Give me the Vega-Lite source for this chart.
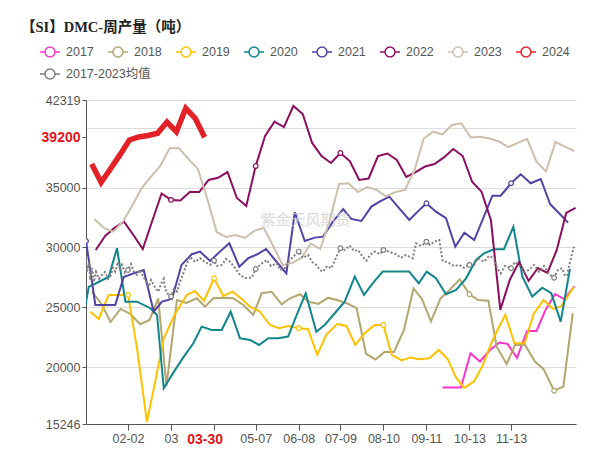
{
  "$schema": "https://vega.github.io/schema/vega-lite/v6.json",
  "width": 490,
  "height": 324,
  "autosize": {"type": "none"},
  "padding": {"left": 86, "top": 100, "right": 37, "bottom": 27},
  "background": "white",
  "title": {"text": "【SI】DMC-周产量（吨）", "anchor": "start", "frame": "group", "dx": -65, "dy": -6, "offset": 0, "font": "Liberation Serif, Noto Sans CJK SC", "fontSize": 14.5, "fontWeight": "bold", "color": "#222222"},
  "config": {
    "view": {"stroke": null},
    "font": "Liberation Sans",
    "axis": {"labelFont": "Liberation Sans", "labelFontSize": 12.5, "labelColor": "#555555", "domainColor": "#555555", "tickColor": "#555555", "gridColor": "#dcdcdc", "labelOverlap": false},
    "legend": {"orient": "none", "direction": "horizontal", "title": null, "padding": 0, "columnPadding": 11, "rowPadding": 2, "labelOffset": 5,
      "symbolType": "M-1,0L-0.5,0M0.5,0L1,0M0.5,0A0.5,0.5,0,1,1,-0.5,0A0.5,0.5,0,1,1,0.5,0",
      "symbolSize": 400, "symbolStrokeWidth": 1.5, "symbolFillColor": "white",
      "labelFont": "Liberation Sans, Noto Sans CJK SC", "labelFontSize": 12.5, "labelColor": "#555555"}
  },
  "data": {"values": [
    {"s":"2017","d":267,"v":18300},{"s":"2017","d":273.7,"v":18300},{"s":"2017","d":280.7,"v":18300},{"s":"2017","d":287.8,"v":21160},{"s":"2017","d":294.9,"v":20470},{"s":"2017","d":302.3,"v":21430},{"s":"2017","d":309.4,"v":22060},{"s":"2017","d":315.3,"v":21940},{"s":"2017","d":322.4,"v":20770},{"s":"2017","d":329.9,"v":23020},{"s":"2017","d":336.9,"v":23020},{"s":"2017","d":343.6,"v":24780},{"s":"2017","d":350.7,"v":26110},{"s":"2017","d":357.4,"v":25690},{"s":"2017","d":365.2,"v":26740},
    {"s":"2018","d":6.2,"v":26300},{"s":"2018","d":13.3,"v":25280},{"s":"2018","d":20,"v":23770},{"s":"2018","d":27.4,"v":24860},{"s":"2018","d":34.7,"v":24440},{"s":"2018","d":42.1,"v":23580},{"s":"2018","d":49,"v":23940},{"s":"2018","d":55.5,"v":25750},{"s":"2018","d":61.6,"v":18430},{"s":"2018","d":69.4,"v":25610},{"s":"2018","d":76.5,"v":25360},{"s":"2018","d":84.1,"v":25750},{"s":"2018","d":90.3,"v":25050},{"s":"2018","d":96.5,"v":25750},{"s":"2018","d":103.9,"v":25800},{"s":"2018","d":111.3,"v":25750},{"s":"2018","d":118.8,"v":25190},{"s":"2018","d":126.2,"v":24360},{"s":"2018","d":132.5,"v":26170},{"s":"2018","d":139.9,"v":26300},{"s":"2018","d":147.3,"v":25250},{"s":"2018","d":153.5,"v":25750},{"s":"2018","d":161,"v":26090},{"s":"2018","d":167.1,"v":25470},{"s":"2018","d":174.6,"v":25280},{"s":"2018","d":182,"v":25800},{"s":"2018","d":188.3,"v":25610},{"s":"2018","d":195.7,"v":25340},{"s":"2018","d":203.1,"v":24920},{"s":"2018","d":210.1,"v":21100},{"s":"2018","d":217.1,"v":20640},{"s":"2018","d":223.8,"v":21270},{"s":"2018","d":230.9,"v":21270},{"s":"2018","d":238.3,"v":23100},{"s":"2018","d":245.4,"v":26570},{"s":"2018","d":251.7,"v":25690},{"s":"2018","d":258.4,"v":23820},{"s":"2018","d":265.5,"v":25740},{"s":"2018","d":272.2,"v":26450},{"s":"2018","d":279.8,"v":27340},{"s":"2018","d":287,"v":26090},{"s":"2018","d":293.6,"v":25610},{"s":"2018","d":301.1,"v":25550},{"s":"2018","d":307.3,"v":21710},{"s":"2018","d":314.7,"v":20260},{"s":"2018","d":320.9,"v":21850},{"s":"2018","d":328.4,"v":21850},{"s":"2018","d":335.8,"v":20460},{"s":"2018","d":342.1,"v":19850},{"s":"2018","d":350,"v":18030},{"s":"2018","d":356.9,"v":18370},{"s":"2018","d":363.9,"v":24500},
    {"s":"2019","d":4.9,"v":24630},{"s":"2019","d":11.2,"v":24020},{"s":"2019","d":18.6,"v":26030},{"s":"2019","d":26.1,"v":26030},{"s":"2019","d":33,"v":26030},{"s":"2019","d":39.7,"v":21580},{"s":"2019","d":47.1,"v":15420},{"s":"2019","d":53.5,"v":18930},{"s":"2019","d":59.6,"v":22410},{"s":"2019","d":68,"v":24440},{"s":"2019","d":76.7,"v":26030},{"s":"2019","d":82.8,"v":26360},{"s":"2019","d":89.5,"v":25530},{"s":"2019","d":97,"v":27420},{"s":"2019","d":103.9,"v":25950},{"s":"2019","d":110.9,"v":26300},{"s":"2019","d":117.6,"v":25690},{"s":"2019","d":124.3,"v":25000},{"s":"2019","d":130.7,"v":24690},{"s":"2019","d":138.6,"v":23520},{"s":"2019","d":145.3,"v":23250},{"s":"2019","d":152.1,"v":23440},{"s":"2019","d":160,"v":23250},{"s":"2019","d":166.9,"v":23190},{"s":"2019","d":173.8,"v":21020},{"s":"2019","d":180.5,"v":22690},{"s":"2019","d":188.7,"v":23610},{"s":"2019","d":195.4,"v":23440},{"s":"2019","d":202.1,"v":21850},{"s":"2019","d":209.1,"v":22830},{"s":"2019","d":216.5,"v":23520},{"s":"2019","d":223,"v":23520},{"s":"2019","d":229.2,"v":21020},{"s":"2019","d":236.6,"v":20560},{"s":"2019","d":242.8,"v":20810},{"s":"2019","d":249.7,"v":20660},{"s":"2019","d":257.2,"v":20740},{"s":"2019","d":264.2,"v":21430},{"s":"2019","d":270.9,"v":20660},{"s":"2019","d":277.1,"v":19120},{"s":"2019","d":283.1,"v":18260},{"s":"2019","d":290.4,"v":18790},{"s":"2019","d":296.7,"v":20100},{"s":"2019","d":303.1,"v":21940},{"s":"2019","d":307.5,"v":23020},{"s":"2019","d":313.7,"v":24360},{"s":"2019","d":320.5,"v":21990},{"s":"2019","d":328.1,"v":21990},{"s":"2019","d":334.8,"v":24440},{"s":"2019","d":342.1,"v":25610},{"s":"2019","d":349.3,"v":24860},{"s":"2019","d":355.5,"v":25110},{"s":"2019","d":364.6,"v":26700},
    {"s":"2020","d":1.4,"v":25190},{"s":"2020","d":3.8,"v":26700},{"s":"2020","d":11.1,"v":27110},{"s":"2020","d":18.6,"v":27530},{"s":"2020","d":24.8,"v":29930},{"s":"2020","d":31.1,"v":25470},{"s":"2020","d":39.7,"v":25470},{"s":"2020","d":49.6,"v":24920},{"s":"2020","d":54.6,"v":24360},{"s":"2020","d":59.6,"v":18230},{"s":"2020","d":67.1,"v":19600},{"s":"2020","d":73.9,"v":20770},{"s":"2020","d":81.6,"v":21990},{"s":"2020","d":87.8,"v":23380},{"s":"2020","d":95.3,"v":23100},{"s":"2020","d":102.7,"v":23100},{"s":"2020","d":109.4,"v":24630},{"s":"2020","d":116.3,"v":22410},{"s":"2020","d":123.8,"v":22270},{"s":"2020","d":130.5,"v":21850},{"s":"2020","d":137.4,"v":22410},{"s":"2020","d":144.6,"v":22410},{"s":"2020","d":152.1,"v":22550},{"s":"2020","d":159.5,"v":24630},{"s":"2020","d":165.2,"v":26170},{"s":"2020","d":173.1,"v":22960},{"s":"2020","d":179.3,"v":23520},{"s":"2020","d":186.8,"v":24500},{"s":"2020","d":194.2,"v":25470},{"s":"2020","d":201.7,"v":27560},{"s":"2020","d":208.6,"v":26030},{"s":"2020","d":215.3,"v":27030},{"s":"2020","d":222.5,"v":27990},{"s":"2020","d":229.4,"v":27990},{"s":"2020","d":236.1,"v":27990},{"s":"2020","d":242.1,"v":27990},{"s":"2020","d":249.3,"v":27010},{"s":"2020","d":255.2,"v":27980},{"s":"2020","d":262.1,"v":27420},{"s":"2020","d":269.6,"v":26090},{"s":"2020","d":277.1,"v":26450},{"s":"2020","d":284.5,"v":27420},{"s":"2020","d":291.9,"v":28950},{"s":"2020","d":297.9,"v":29510},{"s":"2020","d":305.3,"v":29850},{"s":"2020","d":312.7,"v":29850},{"s":"2020","d":319.7,"v":31730},{"s":"2020","d":326.4,"v":27560},{"s":"2020","d":333.8,"v":25890},{"s":"2020","d":341.2,"v":26640},{"s":"2020","d":347.9,"v":26170},{"s":"2020","d":354.9,"v":23800},{"s":"2020","d":361.8,"v":28200},
    {"s":"2021","d":1.75,"v":30540},{"s":"2021","d":8.7,"v":25190},{"s":"2021","d":16.1,"v":25190},{"s":"2021","d":23.5,"v":25190},{"s":"2021","d":29.8,"v":27530},{"s":"2021","d":37.1,"v":27830},{"s":"2021","d":44.7,"v":28120},{"s":"2021","d":52.1,"v":24630},{"s":"2021","d":58.3,"v":25470},{"s":"2021","d":65.7,"v":25690},{"s":"2021","d":72.8,"v":28540},{"s":"2021","d":80.4,"v":29430},{"s":"2021","d":86.6,"v":29650},{"s":"2021","d":94.1,"v":28870},{"s":"2021","d":101.4,"v":29650},{"s":"2021","d":108.4,"v":30350},{"s":"2021","d":115.8,"v":28390},{"s":"2021","d":122.5,"v":29100},{"s":"2021","d":129.2,"v":29430},{"s":"2021","d":135.7,"v":29870},{"s":"2021","d":142.4,"v":28950},{"s":"2021","d":150.8,"v":27840},{"s":"2021","d":157.1,"v":32940},{"s":"2021","d":164.5,"v":30540},{"s":"2021","d":171.9,"v":30820},{"s":"2021","d":178.1,"v":30900},{"s":"2021","d":185.5,"v":32150},{"s":"2021","d":193.1,"v":33210},{"s":"2021","d":199.1,"v":32380},{"s":"2021","d":206.6,"v":32210},{"s":"2021","d":214.1,"v":33410},{"s":"2021","d":220.5,"v":33840},{"s":"2021","d":227.4,"v":34240},{"s":"2021","d":234.8,"v":33270},{"s":"2021","d":242.3,"v":32290},{"s":"2021","d":248.5,"v":32990},{"s":"2021","d":255,"v":33690},{"s":"2021","d":262.1,"v":32990},{"s":"2021","d":269.6,"v":32440},{"s":"2021","d":276.5,"v":30060},{"s":"2021","d":283.2,"v":31230},{"s":"2021","d":290.6,"v":30620},{"s":"2021","d":297.3,"v":32440},{"s":"2021","d":304.1,"v":34320},{"s":"2021","d":310.3,"v":34320},{"s":"2021","d":318,"v":35360},{"s":"2021","d":325.2,"v":36110},{"s":"2021","d":332.6,"v":35360},{"s":"2021","d":340.1,"v":35720},{"s":"2021","d":347.1,"v":33610},{"s":"2021","d":353.7,"v":32850},{"s":"2021","d":360.4,"v":32070},
    {"s":"2022","d":9,"v":29790},{"s":"2022","d":16,"v":30960},{"s":"2022","d":23,"v":31630},{"s":"2022","d":30,"v":32150},{"s":"2022","d":37,"v":31040},{"s":"2022","d":44,"v":29870},{"s":"2022","d":51,"v":32210},{"s":"2022","d":58,"v":34510},{"s":"2022","d":65,"v":33970},{"s":"2022","d":72,"v":33920},{"s":"2022","d":79,"v":34630},{"s":"2022","d":86,"v":34630},{"s":"2022","d":93,"v":35640},{"s":"2022","d":100,"v":35820},{"s":"2022","d":107,"v":36300},{"s":"2022","d":114,"v":34130},{"s":"2022","d":121,"v":33460},{"s":"2022","d":128,"v":36800},{"s":"2022","d":135,"v":39310},{"s":"2022","d":142,"v":40510},{"s":"2022","d":149,"v":40060},{"s":"2022","d":156,"v":41820},{"s":"2022","d":163,"v":41150},{"s":"2022","d":170,"v":38730},{"s":"2022","d":177,"v":37640},{"s":"2022","d":184,"v":37060},{"s":"2022","d":191,"v":37890},{"s":"2022","d":198,"v":37220},{"s":"2022","d":205,"v":35640},{"s":"2022","d":212,"v":35760},{"s":"2022","d":219,"v":37640},{"s":"2022","d":226,"v":37850},{"s":"2022","d":233,"v":37310},{"s":"2022","d":240,"v":35890},{"s":"2022","d":247,"v":36300},{"s":"2022","d":254,"v":36760},{"s":"2022","d":261,"v":36970},{"s":"2022","d":268,"v":37520},{"s":"2022","d":275,"v":38230},{"s":"2022","d":282,"v":37640},{"s":"2022","d":289,"v":35490},{"s":"2022","d":296,"v":34660},{"s":"2022","d":303,"v":32290},{"s":"2022","d":310,"v":24780},{"s":"2022","d":317,"v":27280},{"s":"2022","d":324,"v":28790},{"s":"2022","d":331,"v":27200},{"s":"2022","d":338,"v":28280},{"s":"2022","d":345,"v":27870},{"s":"2022","d":352,"v":29790},{"s":"2022","d":359,"v":32880},{"s":"2022","d":366,"v":33300},
    {"s":"2023","d":8,"v":32380},{"s":"2023","d":15,"v":31630},{"s":"2023","d":22,"v":31320},{"s":"2023","d":29,"v":32130},{"s":"2023","d":36,"v":33460},{"s":"2023","d":43,"v":34930},{"s":"2023","d":50,"v":35890},{"s":"2023","d":57,"v":36810},{"s":"2023","d":64,"v":38280},{"s":"2023","d":71,"v":38280},{"s":"2023","d":78,"v":37390},{"s":"2023","d":85,"v":36560},{"s":"2023","d":92,"v":34050},{"s":"2023","d":99,"v":31290},{"s":"2023","d":106,"v":30870},{"s":"2023","d":113,"v":31040},{"s":"2023","d":120,"v":30790},{"s":"2023","d":127,"v":31380},{"s":"2023","d":134,"v":31650},{"s":"2023","d":141,"v":30120},{"s":"2023","d":148,"v":28540},{"s":"2023","d":155,"v":28700},{"s":"2023","d":162,"v":29120},{"s":"2023","d":169,"v":30330},{"s":"2023","d":176,"v":29870},{"s":"2023","d":183,"v":32210},{"s":"2023","d":190,"v":35300},{"s":"2023","d":197,"v":35360},{"s":"2023","d":204,"v":34630},{"s":"2023","d":211,"v":35050},{"s":"2023","d":218,"v":34800},{"s":"2023","d":225,"v":34260},{"s":"2023","d":232,"v":34630},{"s":"2023","d":239,"v":34800},{"s":"2023","d":246,"v":36390},{"s":"2023","d":253,"v":39100},{"s":"2023","d":260,"v":39670},{"s":"2023","d":267,"v":39440},{"s":"2023","d":274,"v":40230},{"s":"2023","d":281,"v":40370},{"s":"2023","d":288,"v":39190},{"s":"2023","d":295,"v":39250},{"s":"2023","d":302,"v":39100},{"s":"2023","d":309,"v":38850},{"s":"2023","d":316,"v":38390},{"s":"2023","d":323,"v":38730},{"s":"2023","d":330,"v":39060},{"s":"2023","d":337,"v":37140},{"s":"2023","d":344,"v":36350},{"s":"2023","d":351,"v":38810},{"s":"2023","d":358,"v":38420},{"s":"2023","d":365,"v":38060},
    {"s":"2024","d":6,"v":36970},{"s":"2024","d":13,"v":35430},{"s":"2024","d":20,"v":36580},{"s":"2024","d":27,"v":37730},{"s":"2024","d":34,"v":38980},{"s":"2024","d":41,"v":39230},{"s":"2024","d":48,"v":39350},{"s":"2024","d":55,"v":39540},{"s":"2024","d":62,"v":40480},{"s":"2024","d":69,"v":39670},{"s":"2024","d":76,"v":41630},{"s":"2024","d":83,"v":40790},{"s":"2024","d":90,"v":39200},
    {"s":"2017-2023均值","d":1.2,"v":29650},{"s":"2017-2023均值","d":2.5,"v":27980},{"s":"2017-2023均值","d":4.1,"v":28790},{"s":"2017-2023均值","d":4.9,"v":27280},{"s":"2017-2023均值","d":6.2,"v":28290},{"s":"2017-2023均值","d":7.7,"v":27120},{"s":"2017-2023均值","d":9.2,"v":27950},{"s":"2017-2023均值","d":11.4,"v":27370},{"s":"2017-2023均值","d":13.6,"v":27700},{"s":"2017-2023均值","d":15.9,"v":27950},{"s":"2017-2023均值","d":18.2,"v":27370},{"s":"2017-2023均值","d":19.8,"v":27560},{"s":"2017-2023均值","d":21.8,"v":28290},{"s":"2017-2023均值","d":23.5,"v":27980},{"s":"2017-2023均值","d":25.5,"v":28790},{"s":"2017-2023均值","d":27.1,"v":28120},{"s":"2017-2023均值","d":28.5,"v":28540},{"s":"2017-2023均值","d":30.8,"v":27870},{"s":"2017-2023均值","d":33,"v":28120},{"s":"2017-2023均值","d":35.2,"v":28620},{"s":"2017-2023均值","d":37.5,"v":27950},{"s":"2017-2023均值","d":39.7,"v":27700},{"s":"2017-2023均值","d":41.9,"v":28120},{"s":"2017-2023均值","d":44.7,"v":27470},{"s":"2017-2023均值","d":46.4,"v":27200},{"s":"2017-2023均值","d":48.4,"v":26720},{"s":"2017-2023均值","d":50.1,"v":27280},{"s":"2017-2023均值","d":52.1,"v":26870},{"s":"2017-2023均值","d":53.8,"v":26530},{"s":"2017-2023均值","d":55.8,"v":26310},{"s":"2017-2023均值","d":57.5,"v":26950},{"s":"2017-2023均值","d":59.6,"v":27370},{"s":"2017-2023均值","d":60.5,"v":26610},{"s":"2017-2023均值","d":62.1,"v":26170},{"s":"2017-2023均值","d":65,"v":25890},{"s":"2017-2023均值","d":67.2,"v":26530},{"s":"2017-2023均值","d":69.5,"v":26310},{"s":"2017-2023均值","d":71.7,"v":27120},{"s":"2017-2023均值","d":73.2,"v":27560},{"s":"2017-2023均值","d":76.1,"v":28450},{"s":"2017-2023均值","d":79.1,"v":29230},{"s":"2017-2023均值","d":82.8,"v":28790},{"s":"2017-2023均值","d":86.6,"v":29100},{"s":"2017-2023均值","d":90.3,"v":28790},{"s":"2017-2023均值","d":94.1,"v":28540},{"s":"2017-2023均值","d":97,"v":28900},{"s":"2017-2023均值","d":99.2,"v":28450},{"s":"2017-2023均值","d":102.7,"v":28540},{"s":"2017-2023均值","d":105.9,"v":29040},{"s":"2017-2023均值","d":108.9,"v":28810},{"s":"2017-2023均值","d":112.6,"v":28290},{"s":"2017-2023均值","d":116.3,"v":27700},{"s":"2017-2023均值","d":120.1,"v":27450},{"s":"2017-2023均值","d":125.1,"v":27470},{"s":"2017-2023均值","d":128,"v":28200},{"s":"2017-2023均值","d":132.1,"v":28620},{"s":"2017-2023均值","d":136.2,"v":28950},{"s":"2017-2023均值","d":139.4,"v":28450},{"s":"2017-2023均值","d":143.6,"v":28680},{"s":"2017-2023均值","d":146.1,"v":28120},{"s":"2017-2023均值","d":149.6,"v":28260},{"s":"2017-2023均值","d":153.3,"v":28950},{"s":"2017-2023均值","d":156.5,"v":29290},{"s":"2017-2023均值","d":160,"v":29650},{"s":"2017-2023均值","d":163.2,"v":29120},{"s":"2017-2023均值","d":166.9,"v":29370},{"s":"2017-2023均值","d":169.9,"v":28790},{"s":"2017-2023均值","d":173.1,"v":28540},{"s":"2017-2023均值","d":175.8,"v":28120},{"s":"2017-2023均值","d":178.1,"v":27980},{"s":"2017-2023均值","d":181.1,"v":28450},{"s":"2017-2023均值","d":184.2,"v":28260},{"s":"2017-2023均值","d":187.7,"v":29120},{"s":"2017-2023均值","d":191,"v":29930},{"s":"2017-2023均值","d":194.4,"v":29790},{"s":"2017-2023均值","d":197.9,"v":30150},{"s":"2017-2023均值","d":201.1,"v":29710},{"s":"2017-2023均值","d":204.1,"v":29790},{"s":"2017-2023均值","d":207.1,"v":29290},{"s":"2017-2023均值","d":210.3,"v":28900},{"s":"2017-2023均值","d":213.1,"v":29370},{"s":"2017-2023均值","d":216.5,"v":29650},{"s":"2017-2023均值","d":220.5,"v":29430},{"s":"2017-2023均值","d":223,"v":29790},{"s":"2017-2023均值","d":227.9,"v":29620},{"s":"2017-2023均值","d":232.4,"v":29430},{"s":"2017-2023均值","d":236.1,"v":29120},{"s":"2017-2023均值","d":239.8,"v":29370},{"s":"2017-2023均值","d":244.8,"v":29100},{"s":"2017-2023均值","d":247.3,"v":30350},{"s":"2017-2023均值","d":251.1,"v":30120},{"s":"2017-2023均值","d":255,"v":30480},{"s":"2017-2023均值","d":257.7,"v":30210},{"s":"2017-2023均值","d":260.9,"v":30480},{"s":"2017-2023均值","d":264.6,"v":30620},{"s":"2017-2023均值","d":267.1,"v":28870},{"s":"2017-2023均值","d":269.6,"v":28790},{"s":"2017-2023均值","d":272.1,"v":28680},{"s":"2017-2023均值","d":275.5,"v":28450},{"s":"2017-2023均值","d":279.5,"v":28540},{"s":"2017-2023均值","d":283.1,"v":28290},{"s":"2017-2023均值","d":287,"v":28540},{"s":"2017-2023均值","d":290.4,"v":28540},{"s":"2017-2023均值","d":293.4,"v":29100},{"s":"2017-2023均值","d":297.9,"v":28810},{"s":"2017-2023均值","d":301.6,"v":29290},{"s":"2017-2023均值","d":305.3,"v":29100},{"s":"2017-2023均值","d":307.5,"v":28290},{"s":"2017-2023均值","d":310.3,"v":27840},{"s":"2017-2023均值","d":313.5,"v":28450},{"s":"2017-2023均值","d":318,"v":28260},{"s":"2017-2023均值","d":320.9,"v":28790},{"s":"2017-2023均值","d":323.9,"v":28540},{"s":"2017-2023均值","d":327.6,"v":27950},{"s":"2017-2023均值","d":331.3,"v":28120},{"s":"2017-2023均值","d":335.1,"v":28540},{"s":"2017-2023均值","d":338.8,"v":27980},{"s":"2017-2023均值","d":342.5,"v":28450},{"s":"2017-2023均值","d":346.2,"v":27780},{"s":"2017-2023均值","d":350,"v":27470},{"s":"2017-2023均值","d":352.9,"v":28120},{"s":"2017-2023均值","d":356.1,"v":28260},{"s":"2017-2023均值","d":358.1,"v":27620},{"s":"2017-2023均值","d":359.8,"v":27700},{"s":"2017-2023均值","d":361.8,"v":28790},{"s":"2017-2023均值","d":364.8,"v":30060}
  ]},
  "encoding": {
    "x": {"field": "d", "type": "quantitative", "scale": {"domain": [1.75, 366.3], "nice": false, "zero": false},
      "axis": {"title": null, "grid": false, "tickSize": 6, "labelPadding": 2,
        "values": [33, 65, 90, 97, 128, 160, 191, 223, 255, 287, 318],
        "labelExpr": "datum.value==33?'02-02':datum.value==65?'03':datum.value==90?'03-30':datum.value==128?'05-07':datum.value==160?'06-08':datum.value==191?'07-09':datum.value==223?'08-10':datum.value==255?'09-11':datum.value==287?'10-13':datum.value==318?'11-13':''",
        "labelColor": {"condition": {"test": "datum.value==90", "value": "#e2141b"}, "value": "#555555"},
        "labelFontWeight": {"condition": {"test": "datum.value==90", "value": "bold"}, "value": "normal"},
        "labelFontSize": {"condition": {"test": "datum.value==90", "value": 14}, "value": 12.5},
        "tickOpacity": {"condition": {"test": "datum.value==90", "value": 0}, "value": 1}}},
    "y": {"field": "v", "type": "quantitative", "scale": {"domain": [15246, 42319], "nice": false, "zero": false},
      "axis": {"title": null, "tickSize": 4, "labelPadding": 2,
        "values": [15246, 20000, 25000, 30000, 35000, 39200, 40000, 42319],
        "labelExpr": "datum.value==40000?'':(''+datum.value)",
        "gridColor": {"condition": {"test": "datum.value==39200", "value": "transparent"}, "value": "#dcdcdc"},
        "labelColor": {"condition": {"test": "datum.value==39200", "value": "#e2141b"}, "value": "#555555"},
        "labelFontWeight": {"condition": {"test": "datum.value==39200", "value": "bold"}, "value": "normal"},
        "labelFontSize": {"condition": {"test": "datum.value==39200", "value": 14}, "value": 12.5},
        "tickOpacity": {"condition": {"test": "datum.value==40000", "value": 0}, "value": 1}}}
  },
  "layer": [
    {
      "transform": [{"filter": "datum.s!='2017-2023均值'"}],
      "encoding": {
        "color": {"field": "s", "type": "nominal",
          "scale": {"domain": ["2017", "2018", "2019", "2020", "2021", "2022", "2023", "2024"],
                    "range": ["#ff33cc", "#b3a66f", "#ffc000", "#10868c", "#5142a6", "#8b0e5f", "#cdbfab", "#e32228"]},
          "legend": {"legendX": -47, "legendY": -59}}
      },
      "layer": [
        {
          "transform": [{"filter": "datum.s!='2024'"}],
          "mark": {"type": "line", "strokeWidth": 2, "clip": true}
        },
        {
          "transform": [{"filter": "datum.s=='2024'"}],
          "mark": {"type": "line", "strokeWidth": 5.5, "clip": true}
        },
        {
          "transform": [{"filter": "datum.s!='2024' && datum.s!='2023' && indexof([1.75,33,65,97,128,160,191,223,255,287,318,350], datum.d) >= 0"}],
          "mark": {"type": "point", "filled": false, "fill": "white", "fillOpacity": 1, "size": 22, "strokeWidth": 1.2, "clip": true}
        }
      ]
    },
    {
      "transform": [{"filter": "datum.s=='2017-2023均值'"}],
      "encoding": {
        "color": {"field": "s", "type": "nominal",
          "scale": {"domain": ["2017-2023均值"], "range": ["#7f7f7f"]},
          "legend": {"legendX": -47, "legendY": -37}}
      },
      "layer": [
        {
          "mark": {"type": "line", "strokeWidth": 2, "strokeDash": [2, 2], "clip": true}
        },
        {
          "transform": [{"filter": "indexof([33,65,97,128,160,191,223,255,287,318,350], datum.d) >= 0"}],
          "mark": {"type": "point", "filled": false, "fill": "white", "fillOpacity": 1, "size": 22, "strokeWidth": 1.2, "clip": true}
        }
      ]
    },
    {
      "data": {"values": [{"d": 165, "v": 32300, "t": "紫金天风期货"}]},
      "mark": {"type": "text", "font": "Noto Sans CJK SC", "fontSize": 15, "color": "#cfcfcf", "opacity": 0.8},
      "encoding": {"text": {"field": "t"}}
    }
  ],
  "resolve": {"scale": {"color": "independent"}, "legend": {"color": "independent"}}
}
